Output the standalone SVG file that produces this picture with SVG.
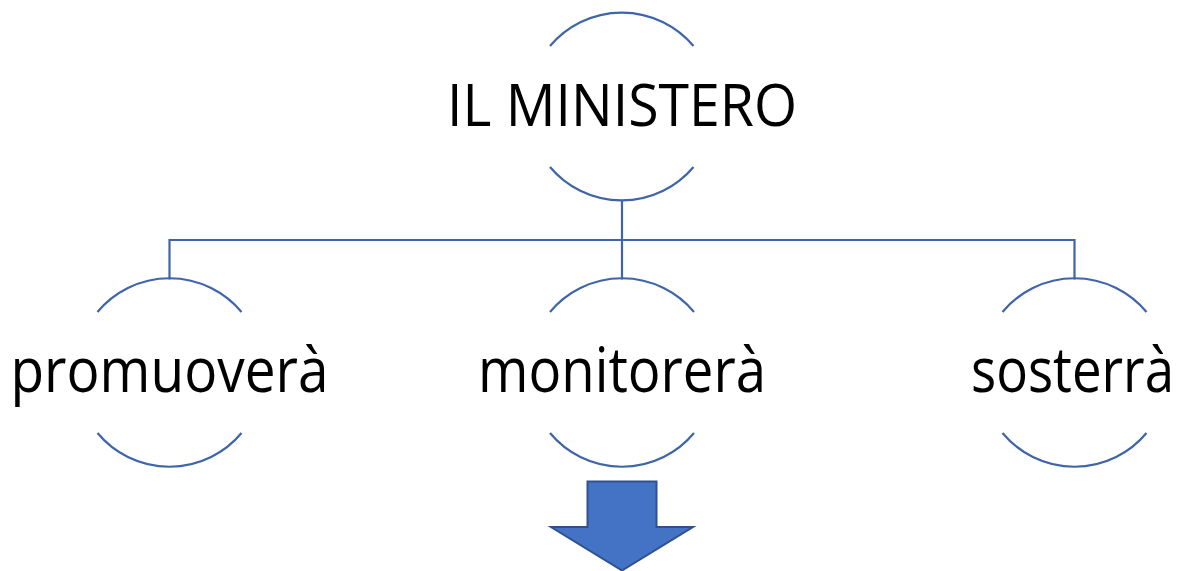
<svg xmlns="http://www.w3.org/2000/svg" width="1181" height="571" viewBox="0 0 1181 571">
<style>
.arc{fill:none;stroke:#3E65A9;stroke-width:2.2}
.conn{fill:none;stroke:#3E65A9;stroke-width:2.2}
.lbl{font-family:"Open Sans","Noto Sans",sans-serif;fill:#000;text-anchor:middle}
</style>
<rect width="1181" height="571" fill="#fff"/>
<g id="connectors">
<path class="conn" d="M622,200 V240 M169.5,240 H1074.5 M169.5,239 V279.5 M622,240 V279.5 M1074.5,239 V279.5"/>
</g>
<g id="node-ministero">
<path class="arc" d="M550,46 A93.7,93.7 0 0 1 693.5,46"/>
<path class="arc" d="M550,167 A93.7,93.7 0 0 0 693.5,167"/>
<text class="lbl" x="622" y="126" font-size="59" textLength="350" lengthAdjust="spacingAndGlyphs">IL MINISTERO</text>
</g>
<g id="node-promuovera">
<path class="arc" d="M97.5,312 A93.7,93.7 0 0 1 241.5,312"/>
<path class="arc" d="M97.5,433 A93.7,93.7 0 0 0 241.5,433"/>
<text class="lbl" x="169.5" y="392" font-size="62" textLength="318" lengthAdjust="spacingAndGlyphs">promuoverà</text>
</g>
<g id="node-monitorera">
<path class="arc" d="M550,312 A93.7,93.7 0 0 1 694,312"/>
<path class="arc" d="M550,433 A93.7,93.7 0 0 0 694,433"/>
<text class="lbl" x="622" y="392" font-size="62" textLength="288" lengthAdjust="spacingAndGlyphs">monitorerà</text>
</g>
<g id="node-sosterra">
<path class="arc" d="M1002.5,312 A93.7,93.7 0 0 1 1146.5,312"/>
<path class="arc" d="M1002.5,433 A93.7,93.7 0 0 0 1146.5,433"/>
<text class="lbl" x="1072.5" y="392" font-size="62" textLength="203" lengthAdjust="spacingAndGlyphs">sosterrà</text>
</g>
<g id="arrow-down">
<path d="M587.5,481.5 H656.5 V527 H693 L622,570.5 L551,527 H587.5 Z" fill="#4472C4" stroke="#2F528F" stroke-width="2"/>
</g>
</svg>
